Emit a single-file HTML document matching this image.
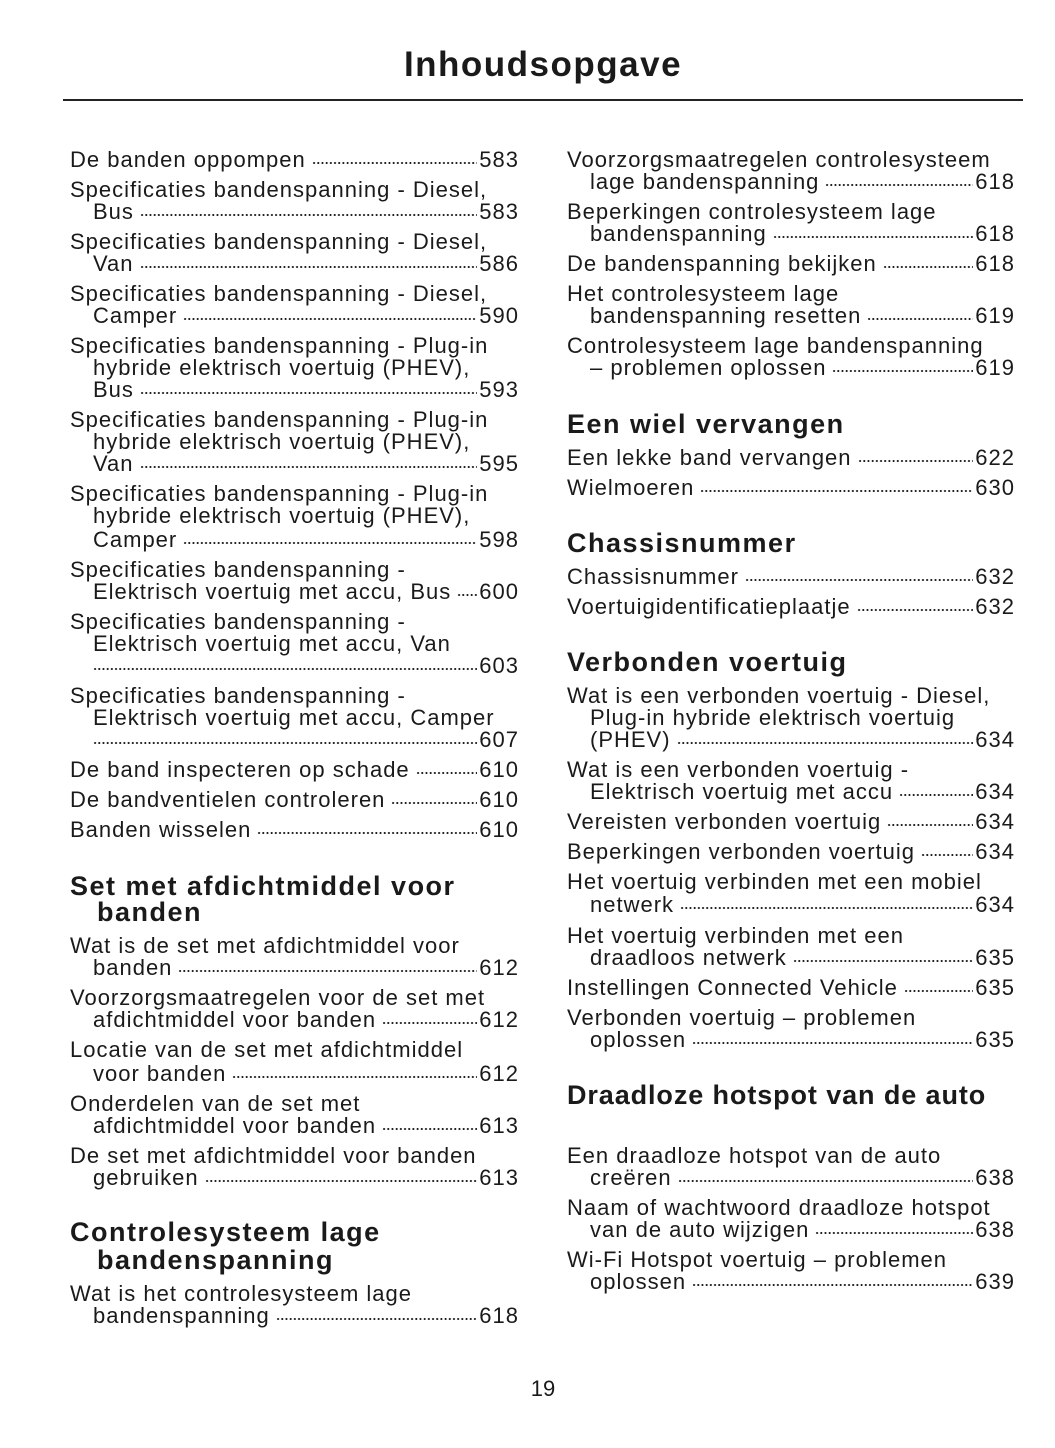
<!DOCTYPE html>
<html><head><meta charset="utf-8"><style>
body{margin:0;width:1055px;height:1448px;background:#fff;position:relative;font-family:"Liberation Sans",sans-serif;color:#1a1a1a;overflow:hidden}
.t{position:absolute;left:0;width:1086px;text-align:center;top:45px;font-weight:bold;font-size:35px;letter-spacing:1.5px}
.rule{position:absolute;left:63px;width:960px;top:99px;height:2px;background:#222}
.l{position:absolute;height:24px;line-height:24px;font-size:22px;letter-spacing:1px;display:flex;white-space:nowrap}
.L{left:70px;width:449px}.R{left:567px;width:448px}
.in{padding-left:23px;box-sizing:border-box}
.l i{flex:1;margin:0 2px 0 6px;height:17px;background:radial-gradient(circle,#222 0.9px,transparent 1.2px) repeat-x bottom left;background-size:4.2px 4px}
.h{position:absolute;font-weight:bold;font-size:27px;line-height:28px;letter-spacing:1.5px;white-space:nowrap}
.pn{position:absolute;top:1376px;left:0;width:1086px;text-align:center;font-size:22px}
</style></head><body>
<div class="t">Inhoudsopgave</div><div class="rule"></div>

<div class="l L" style="top:148px"><span>De banden oppompen</span><i></i><span>583</span></div>
<div class="l L" style="top:178px"><span>Specificaties bandenspanning - Diesel,</span></div>
<div class="l L in" style="top:200px"><span>Bus</span><i></i><span>583</span></div>
<div class="l L" style="top:230px"><span>Specificaties bandenspanning - Diesel,</span></div>
<div class="l L in" style="top:252px"><span>Van</span><i></i><span>586</span></div>
<div class="l L" style="top:282px"><span>Specificaties bandenspanning - Diesel,</span></div>
<div class="l L in" style="top:304px"><span>Camper</span><i></i><span>590</span></div>
<div class="l L" style="top:334px"><span>Specificaties bandenspanning - Plug-in</span></div>
<div class="l L in" style="top:356px"><span>hybride elektrisch voertuig (PHEV),</span></div>
<div class="l L in" style="top:378px"><span>Bus</span><i></i><span>593</span></div>
<div class="l L" style="top:408px"><span>Specificaties bandenspanning - Plug-in</span></div>
<div class="l L in" style="top:430px"><span>hybride elektrisch voertuig (PHEV),</span></div>
<div class="l L in" style="top:452px"><span>Van</span><i></i><span>595</span></div>
<div class="l L" style="top:482px"><span>Specificaties bandenspanning - Plug-in</span></div>
<div class="l L in" style="top:504px"><span>hybride elektrisch voertuig (PHEV),</span></div>
<div class="l L in" style="top:528px"><span>Camper</span><i></i><span>598</span></div>
<div class="l L" style="top:558px"><span>Specificaties bandenspanning -</span></div>
<div class="l L in" style="top:580px"><span>Elektrisch voertuig met accu, Bus</span><i></i><span>600</span></div>
<div class="l L" style="top:610px"><span>Specificaties bandenspanning -</span></div>
<div class="l L in" style="top:632px"><span>Elektrisch voertuig met accu, Van</span></div>
<div class="l L in" style="top:654px"><i style="margin-left:0"></i><span>603</span></div>
<div class="l L" style="top:684px"><span>Specificaties bandenspanning -</span></div>
<div class="l L in" style="top:706px"><span>Elektrisch voertuig met accu, Camper</span></div>
<div class="l L in" style="top:728px"><i style="margin-left:0"></i><span>607</span></div>
<div class="l L" style="top:758px"><span>De band inspecteren op schade</span><i></i><span>610</span></div>
<div class="l L" style="top:788px"><span>De bandventielen controleren</span><i></i><span>610</span></div>
<div class="l L" style="top:818px"><span>Banden wisselen</span><i></i><span>610</span></div>
<div class="h" style="left:70px;top:872px">Set met afdichtmiddel voor</div>
<div class="h" style="left:97px;top:898px">banden</div>
<div class="l L" style="top:934px"><span>Wat is de set met afdichtmiddel voor</span></div>
<div class="l L in" style="top:956px"><span>banden</span><i></i><span>612</span></div>
<div class="l L" style="top:986px"><span>Voorzorgsmaatregelen voor de set met</span></div>
<div class="l L in" style="top:1008px"><span>afdichtmiddel voor banden</span><i></i><span>612</span></div>
<div class="l L" style="top:1038px"><span>Locatie van de set met afdichtmiddel</span></div>
<div class="l L in" style="top:1062px"><span>voor banden</span><i></i><span>612</span></div>
<div class="l L" style="top:1092px"><span>Onderdelen van de set met</span></div>
<div class="l L in" style="top:1114px"><span>afdichtmiddel voor banden</span><i></i><span>613</span></div>
<div class="l L" style="top:1144px"><span>De set met afdichtmiddel voor banden</span></div>
<div class="l L in" style="top:1166px"><span>gebruiken</span><i></i><span>613</span></div>
<div class="h" style="left:70px;top:1218px">Controlesysteem lage</div>
<div class="h" style="left:97px;top:1246px">bandenspanning</div>
<div class="l L" style="top:1282px"><span>Wat is het controlesysteem lage</span></div>
<div class="l L in" style="top:1304px"><span>bandenspanning</span><i></i><span>618</span></div>

<div class="l R" style="top:148px"><span>Voorzorgsmaatregelen controlesysteem</span></div>
<div class="l R in" style="top:170px"><span>lage bandenspanning</span><i></i><span>618</span></div>
<div class="l R" style="top:200px"><span>Beperkingen controlesysteem lage</span></div>
<div class="l R in" style="top:222px"><span>bandenspanning</span><i></i><span>618</span></div>
<div class="l R" style="top:252px"><span>De bandenspanning bekijken</span><i></i><span>618</span></div>
<div class="l R" style="top:282px"><span>Het controlesysteem lage</span></div>
<div class="l R in" style="top:304px"><span>bandenspanning resetten</span><i></i><span>619</span></div>
<div class="l R" style="top:334px"><span>Controlesysteem lage bandenspanning</span></div>
<div class="l R in" style="top:356px"><span>– problemen oplossen</span><i></i><span>619</span></div>
<div class="h" style="left:567px;top:410px">Een wiel vervangen</div>
<div class="l R" style="top:446px"><span>Een lekke band vervangen</span><i></i><span>622</span></div>
<div class="l R" style="top:476px"><span>Wielmoeren</span><i></i><span>630</span></div>
<div class="h" style="left:567px;top:529px">Chassisnummer</div>
<div class="l R" style="top:565px"><span>Chassisnummer</span><i></i><span>632</span></div>
<div class="l R" style="top:595px"><span>Voertuigidentificatieplaatje</span><i></i><span>632</span></div>
<div class="h" style="left:567px;top:648px">Verbonden voertuig</div>
<div class="l R" style="top:684px"><span>Wat is een verbonden voertuig - Diesel,</span></div>
<div class="l R in" style="top:706px"><span>Plug-in hybride elektrisch voertuig</span></div>
<div class="l R in" style="top:728px"><span>(PHEV)</span><i></i><span>634</span></div>
<div class="l R" style="top:758px"><span>Wat is een verbonden voertuig -</span></div>
<div class="l R in" style="top:780px"><span>Elektrisch voertuig met accu</span><i></i><span>634</span></div>
<div class="l R" style="top:810px"><span>Vereisten verbonden voertuig</span><i></i><span>634</span></div>
<div class="l R" style="top:840px"><span>Beperkingen verbonden voertuig</span><i></i><span>634</span></div>
<div class="l R" style="top:870px"><span>Het voertuig verbinden met een mobiel</span></div>
<div class="l R in" style="top:893px"><span>netwerk</span><i></i><span>634</span></div>
<div class="l R" style="top:924px"><span>Het voertuig verbinden met een</span></div>
<div class="l R in" style="top:946px"><span>draadloos netwerk</span><i></i><span>635</span></div>
<div class="l R" style="top:976px"><span>Instellingen Connected Vehicle</span><i></i><span>635</span></div>
<div class="l R" style="top:1006px"><span>Verbonden voertuig – problemen</span></div>
<div class="l R in" style="top:1028px"><span>oplossen</span><i></i><span>635</span></div>
<div class="h" style="left:567px;top:1081px;letter-spacing:0.9px">Draadloze hotspot van de auto</div>
<div class="l R" style="top:1144px"><span>Een draadloze hotspot van de auto</span></div>
<div class="l R in" style="top:1166px"><span>creëren</span><i></i><span>638</span></div>
<div class="l R" style="top:1196px"><span>Naam of wachtwoord draadloze hotspot</span></div>
<div class="l R in" style="top:1218px"><span>van de auto wijzigen</span><i></i><span>638</span></div>
<div class="l R" style="top:1248px"><span>Wi-Fi Hotspot voertuig – problemen</span></div>
<div class="l R in" style="top:1270px"><span>oplossen</span><i></i><span>639</span></div>

<div class="pn">19</div>
</body></html>
